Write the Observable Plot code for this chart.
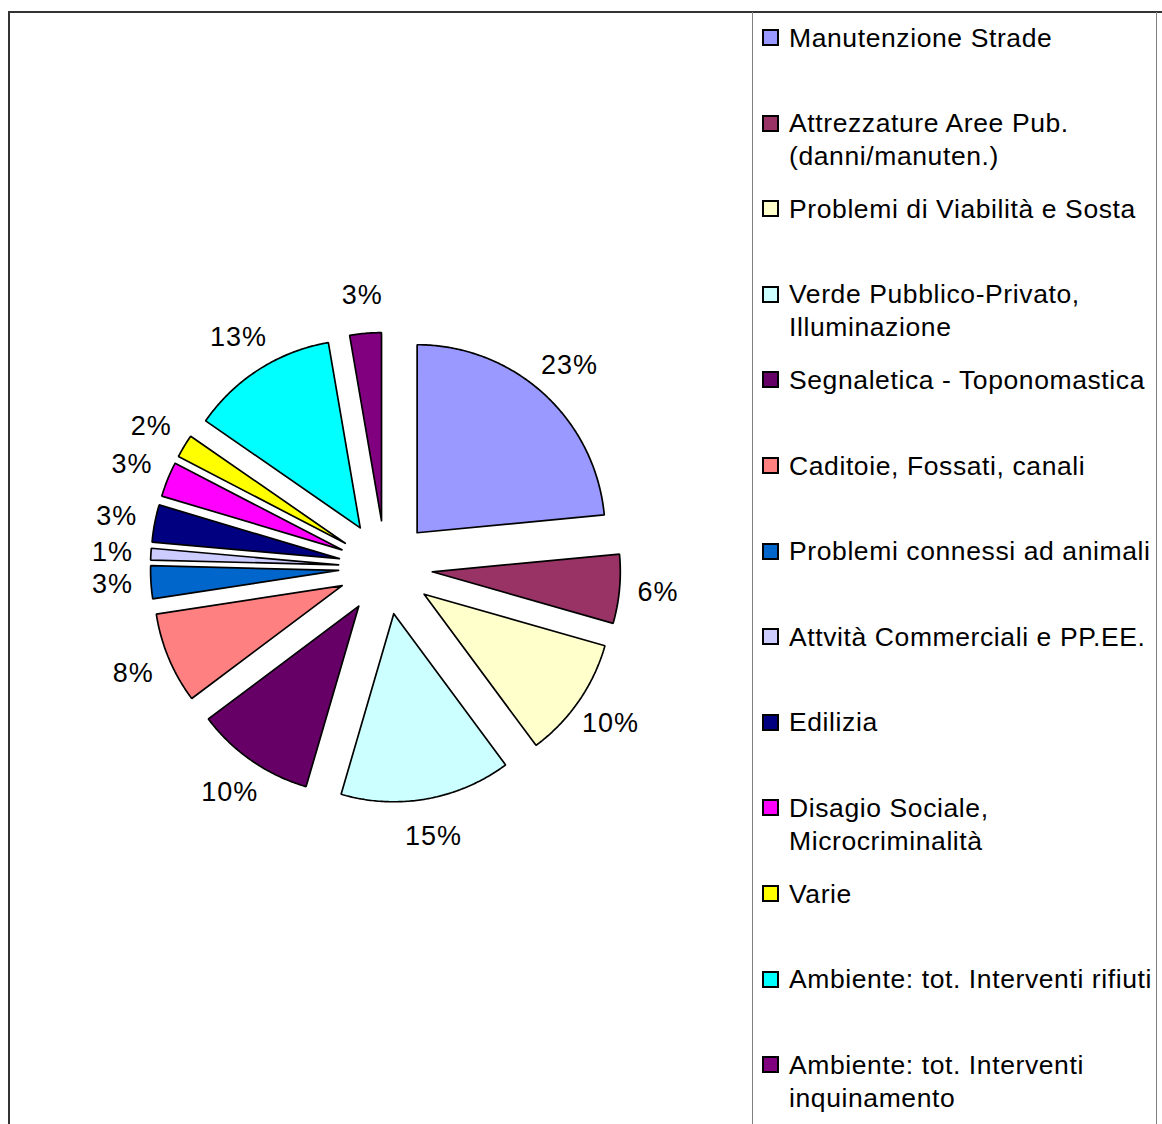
<!DOCTYPE html>
<html>
<head>
<meta charset="utf-8">
<script src="https://cdn.jsdelivr.net/npm/d3@7"></script>
<script src="https://cdn.jsdelivr.net/npm/@observablehq/plot@0.6"></script>
<style>
  body { margin: 0; background: #fff; font-family: "Liberation Sans", Arial, sans-serif; }
  #wrap { position: relative; width: 1162px; height: 1124px; overflow: hidden; background: #fff; }
  #frame { position: absolute; left: 8px; top: 11px; width: 1300px; height: 1300px;
           border-left: 2px solid #333; border-top: 2px solid #333; }
  #chart { position: absolute; left: 0; top: 0; }
  #chart text { letter-spacing: 1px; }
  #legend { position: absolute; left: 752px; top: 12px; width: 403px; height: 1300px;
            border-left: 1.5px solid #808080; border-right: 1.5px solid #808080; }
  .item { position: absolute; left: 0; width: 400px; }
  .sw { position: absolute; left: 9px; top: 7.5px; width: 17px; height: 17px; box-sizing: border-box;
        border: 2px solid #000; }
  .tx { position: absolute; left: 36px; top: 0; width: 380px; font-size: 26.5px; line-height: 33px;
        letter-spacing: 0.6px; color: #000; }
</style>
</head>
<body>
<div id="wrap">
  <div id="chart"></div>
  <div id="frame"></div>
  <div id="legend"></div>
</div>
<script>
// ---- data ----
const categories = [
  "Manutenzione Strade",
  "Attrezzature Aree Pub. (danni/manuten.)",
  "Problemi di Viabilità e Sosta",
  "Verde Pubblico-Privato, Illuminazione",
  "Segnaletica - Toponomastica",
  "Caditoie, Fossati, canali",
  "Problemi connessi ad animali",
  "Attvità Commerciali e PP.EE.",
  "Edilizia",
  "Disagio Sociale, Microcriminalità",
  "Varie",
  "Ambiente: tot. Interventi rifiuti",
  "Ambiente: tot. Interventi inquinamento"
];
const values = [23.4, 5.9, 10.4, 14.6, 10.2, 7.8, 2.8, 1.0, 3.2, 3.0, 2.0, 12.6, 2.7];
const colors = ["#9999FF", "#993366", "#FFFFCC", "#CCFFFF", "#660066", "#FF8080", "#0066CC",
                "#CCCCFF", "#000080", "#FF00FF", "#FFFF00", "#00FFFF", "#800080"];

// ---- geometry (unit radius) ----
const total = d3.sum(values);
const arcs = d3.pie().sort(null).value(d => d)(values);
const R = 1, explode = 0.25, labelR = 1.455;
const pts = [];
const labels = [];
arcs.forEach((p, i) => {
  const cat = categories[i];
  const mid = (p.startAngle + p.endAngle) / 2;
  const ox = explode * Math.sin(mid), oy = -explode * Math.cos(mid);
  pts.push({cat, x: ox, y: oy});
  const n = Math.max(2, Math.ceil((p.endAngle - p.startAngle) / 0.01));
  for (let k = 0; k <= n; k++) {
    const a = p.startAngle + (p.endAngle - p.startAngle) * k / n;
    pts.push({cat, x: ox + R * Math.sin(a), y: oy - R * Math.cos(a)});
  }
  pts.push({cat, x: ox, y: oy});
  labels.push({x: labelR * Math.sin(mid), y: -labelR * Math.cos(mid),
               text: Math.round(values[i] / total * 100) + "%"});
});

const px = 188; // pixels per unit radius
const cx = 385, cy = 567;
const chart = Plot.plot({
  width: 752, height: 1124, margin: 0,
  x: {domain: [-cx / px, (752 - cx) / px], range: [0, 752], axis: null},
  y: {domain: [-cy / px, (1124 - cy) / px], range: [0, 1124], axis: null},
  color: {domain: categories, range: colors},
  style: {background: "transparent", fontFamily: "'Liberation Sans', Arial, sans-serif"},
  marks: [
    Plot.line(pts, {x: "x", y: "y", z: "cat", fill: "cat", stroke: "#000", strokeWidth: 1.7, strokeLinejoin: "miter"}),
    Plot.text(labels, {x: "x", y: "y", text: "text", fontSize: 27, fill: "#000"})
  ]
});
document.getElementById("chart").appendChild(chart);

// ---- legend ----
const legend = document.getElementById("legend");
categories.forEach((c, i) => {
  const item = document.createElement("div");
  item.className = "item";
  item.style.top = (9.5 + i * 85.6) + "px";
  const sw = document.createElement("div");
  sw.className = "sw";
  sw.style.background = colors[i];
  const tx = document.createElement("div");
  tx.className = "tx";
  tx.textContent = c;
  item.appendChild(sw);
  item.appendChild(tx);
  legend.appendChild(item);
});
</script>
</body>
</html>
